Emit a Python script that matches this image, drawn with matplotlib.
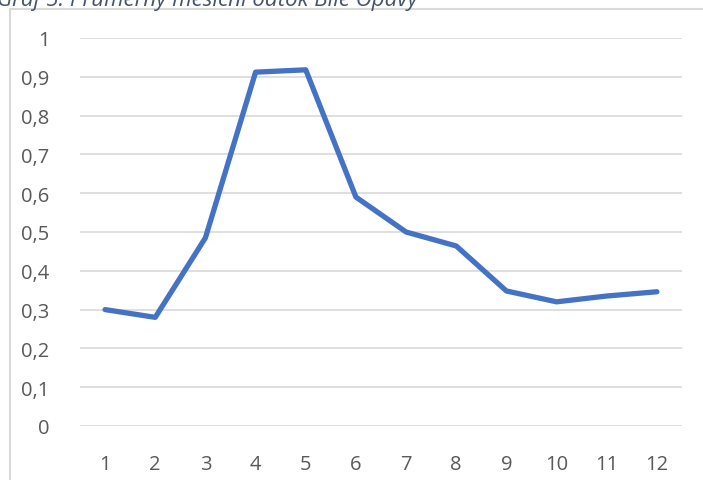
import matplotlib
matplotlib.use("Agg")
import matplotlib.pyplot as plt
from matplotlib.lines import Line2D

months = ["1", "2", "3", "4", "5", "6", "7", "8", "9", "10", "11", "12"]
flow = [0.30, 0.28, 0.485, 0.912, 0.918, 0.59, 0.50, 0.464, 0.348, 0.32, 0.335, 0.346]
yticks = [0, 0.1, 0.2, 0.3, 0.4, 0.5, 0.6, 0.7, 0.8, 0.9, 1.0]
ylabels = ["0", "0,1", "0,2", "0,3", "0,4", "0,5", "0,6", "0,7", "0,8", "0,9", "1"]
title = "Graf 5: Průměrný měsíční odtok Bílé Opavy"

W, H = 703, 481
fig = plt.figure(figsize=(W / 100, H / 100), dpi=100)
plt.rcParams['font.family'] = ['Open Sans', 'DejaVu Sans']

# chart frame
fig.add_artist(Line2D([9.5 / W, 9.5 / W], [0, 1 - 10 / H], transform=fig.transFigure,
                      color="#d9d9d9", lw=1.5))
fig.add_artist(Line2D([9.5 / W, 1], [1 - 10 / H, 1 - 10 / H], transform=fig.transFigure,
                      color="#d9d9d9", lw=1.5))

fig.text(-3 / W, 1 + 1 / H, title, fontsize=16, style="italic", color="#44546A",
         ha="left", va="center", family=["Open Sans", "DejaVu Sans"])

ax = fig.add_axes([80 / W, 1 - 427 / H, 602 / W, 388 / H])
x = list(range(len(months)))
ax.plot(x, flow, color="#4472C4", lw=3.8, solid_joinstyle="round", solid_capstyle="round")
ax.set_xlim(-0.5, len(months) - 0.5)
ax.set_ylim(0, 1)
ax.set_yticks(yticks)
ax.set_yticklabels(ylabels)
ax.set_xticks(x)
ax.set_xticklabels(months)
ax.grid(axis="y", color="#d9d9d9", lw=1.2)
ax.set_axisbelow(True)
for s in ax.spines.values():
    s.set_visible(False)
ax.tick_params(length=0, labelsize=14.5, labelcolor="#595959")
ax.tick_params(axis="y", pad=22)
ax.tick_params(axis="x", pad=20)

fig.savefig("out.png", dpi=100)
